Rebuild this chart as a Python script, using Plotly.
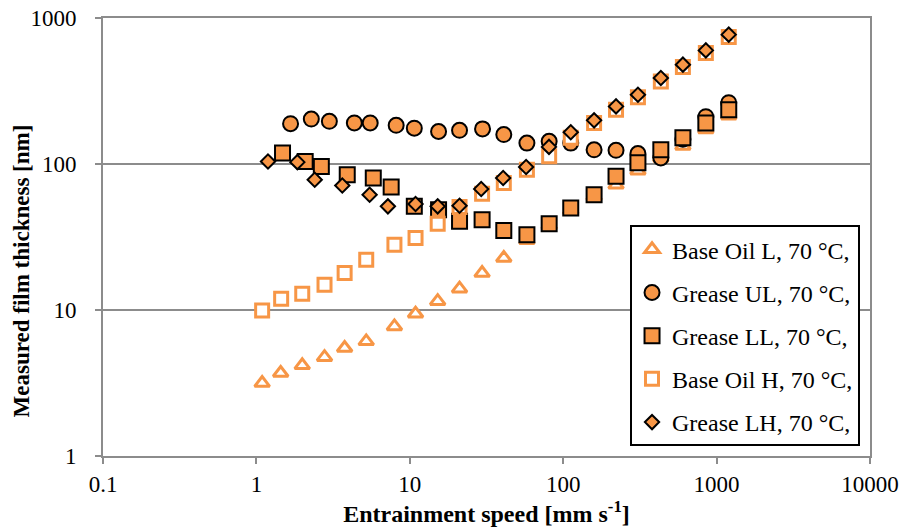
import plotly.graph_objects as go

# ---- data ----
base_oil_L_x = [1.09, 1.44, 1.99, 2.78, 3.76, 5.2, 7.94, 10.9, 15.2, 21.1, 29.6, 41, 58, 81, 112, 159, 221, 307, 433, 603, 851, 1200]
base_oil_L_y = [3.16, 3.70, 4.18, 4.75, 5.49, 6.10, 7.72, 9.43, 11.5, 14.0, 17.9, 22.7, 30, 38, 48, 60, 72, 90, 110, 133, 172, 214]

grease_UL_x = [1.67, 2.28, 2.99, 4.35, 5.52, 8.15, 10.7, 15.4, 21.1, 29.8, 41, 58, 81, 112, 159, 221, 307, 433, 603, 851, 1200]
grease_UL_y = [189, 203, 196, 191, 191, 184, 176, 167, 170, 174, 159, 139, 143, 139, 125, 124, 118, 110, 148, 211, 263]

grease_LL_x = [1.48, 2.08, 2.65, 3.91, 5.78, 7.56, 10.7, 15.4, 21.1, 29.6, 41, 58, 81, 112, 159, 221, 307, 433, 603, 851, 1200]
grease_LL_y = [119, 104, 96.3, 84.5, 80.2, 69.6, 51.3, 48.6, 40.5, 41.5, 35.1, 32.8, 39, 50, 61.6, 82.3, 102, 125, 151, 191, 235]

base_oil_H_x = [1.09, 1.45, 1.99, 2.78, 3.76, 5.2, 7.94, 10.9, 15.2, 21.1, 29.6, 41, 58, 81, 112, 159, 221, 307, 433, 603, 851, 1200]
base_oil_H_y = [9.94, 11.95, 12.9, 14.9, 17.9, 22.1, 28.0, 31.1, 39, 50.8, 62.5, 74.1, 91.4, 113, 151, 191, 235, 287, 368, 461, 576, 741]

grease_LH_x = [1.19, 1.85, 2.40, 3.63, 5.47, 7.20, 10.9, 15.2, 21.1, 29.2, 40.6, 57.3, 80.8, 112, 159, 221, 307, 433, 603, 851, 1200]
grease_LH_y = [104, 103, 78, 71.3, 61.6, 51.3, 53.2, 51.3, 51.8, 67.4, 80.2, 95.4, 131, 165, 199, 248, 298, 388, 479, 600, 769]

series_names = ["Base Oil L, 70 °C,", "Grease UL, 70 °C,", "Grease LL, 70 °C,",
                "Base Oil H, 70 °C,", "Grease LH, 70 °C,"]

x_tick_vals = [0.1, 1, 10, 100, 1000, 10000]
x_tick_text = ["0.1", "1", "10", "100", "1000", "10000"]
y_tick_vals = [1, 10, 100, 1000]
y_tick_text = ["1", "10", "100", "1000"]

x_title = "<b>Entrainment speed [mm s<sup>-1</sup>]</b>"
y_title = "<b>Measured film thickness [nm]</b>"

ORANGE = "#F79646"
GRID = "#8C8C8C"
FONT = "Liberation Serif"

fig = go.Figure()

def add(name, xs, ys, symbol, size, fill, line_color, line_width, grp):
    fig.add_trace(go.Scatter(
        x=xs, y=ys, mode="markers", name=name, legendgroup=grp,
        marker=dict(symbol=symbol, size=size, color=fill,
                    line=dict(color=line_color, width=line_width)),
    ))

add(series_names[0], base_oil_L_x, base_oil_L_y, "triangle-up", 13, "white", ORANGE, 3, "a")
add(series_names[1], grease_UL_x, grease_UL_y, "circle", 15, ORANGE, "black", 2, "b")
add(series_names[2], grease_LL_x, grease_LL_y, "square", 15, ORANGE, "black", 2, "c")
add(series_names[3], base_oil_H_x, base_oil_H_y, "square", 13, "white", ORANGE, 3, "d")
add(series_names[4], grease_LH_x, grease_LH_y, "diamond", 11, ORANGE, "black", 2, "e")

fig.update_layout(
    template="none",
    width=904, height=529,
    margin=dict(l=103, r=34, t=18, b=73),
    paper_bgcolor="white", plot_bgcolor="white",
    font=dict(family=FONT, size=23, color="black"),
    showlegend=True,
    legend=dict(
        x=0.987, xanchor="right", y=0.527, yanchor="top",
        bgcolor="white", bordercolor="black", borderwidth=2,
        font=dict(family=FONT, size=24, color="black"),
        traceorder="grouped", tracegroupgap=9,
    ),
    xaxis=dict(
        type="log", range=[-1, 4], automargin=False,
        tickvals=x_tick_vals, ticktext=x_tick_text,
        showgrid=False, showline=True, linecolor=GRID, linewidth=2,
        mirror=True,
        ticks="outside", ticklen=6, tickcolor=GRID, tickwidth=2,
        ticklabelstandoff=0,
        tickfont=dict(family=FONT, size=23, color="black"),
        title=dict(text=x_title,
                   font=dict(family=FONT, size=24, color="black"), standoff=7),
        zeroline=False,
    ),
    yaxis=dict(
        type="log", range=[0, 3], automargin=False,
        tickvals=y_tick_vals, ticktext=y_tick_text,
        showgrid=True, gridcolor=GRID, gridwidth=2,
        showline=True, linecolor=GRID, linewidth=2, mirror=True,
        ticks="outside", ticklen=6, tickcolor=GRID, tickwidth=2,
        ticklabelstandoff=14,
        tickfont=dict(family=FONT, size=23, color="black"),
        zeroline=False,
    ),
    annotations=[dict(
        text=y_title, textangle=-90, showarrow=False,
        xref="paper", yref="paper", x=-0.105, y=0.4224,
        xanchor="center", yanchor="middle",
        font=dict(family=FONT, size=23, color="black"),
    )],
)

fig.write_html("out.html")
